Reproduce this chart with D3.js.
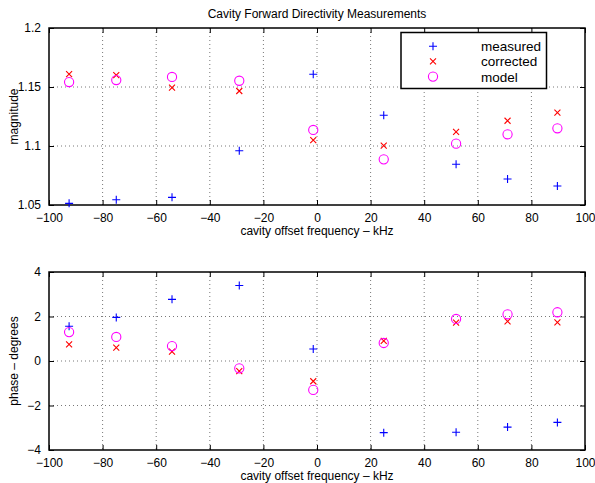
<!DOCTYPE html>
<html><head><meta charset="utf-8">
<script src="https://cdn.jsdelivr.net/npm/d3@7"></script>
<style>body{margin:0;background:#fff;} text{font-family:"Liberation Sans",Arial,sans-serif;fill:#000;}</style>
</head><body>
<svg id="c" width="595" height="483"></svg>
<script>
const freq = [-92.5, -74.9, -54.1, -29.0, -1.4, 24.9, 51.9, 71.1, 89.7];
const magMeasured = [1.0514, 1.0545, 1.0565, 1.096, 1.1608, 1.126, 1.0845, 1.072, 1.0661];
const magCorrected = [1.161, 1.160, 1.1494, 1.1466, 1.105, 1.1003, 1.1119, 1.1214, 1.1282];
const magModel = [1.1542, 1.1559, 1.1585, 1.1553, 1.1136, 1.0887, 1.102, 1.1099, 1.115];
const phMeasured = [1.56, 1.96, 2.77, 3.39, 0.54, -3.22, -3.2, -2.97, -2.76];
const phCorrected = [0.75, 0.6, 0.42, -0.46, -0.91, 0.9, 1.72, 1.78, 1.74];
const phModel = [1.3, 1.08, 0.67, -0.33, -1.3, 0.81, 1.89, 2.1, 2.19];
const xTicks = [-100, -80, -60, -40, -20, 0, 20, 40, 60, 80, 100];
const magTicks = [1.05, 1.1, 1.15, 1.2];
const magTickLabels = ["1.05", "1.1", "1.15", "1.2"];
const phTicks = [-4, -2, 0, 2, 4];
const title = "Cavity Forward Directivity Measurements";
const xLabel = "cavity offset frequency \u2013 kHz";
const seriesNames = ["measured", "corrected", "model"];
const seriesColors = ["#0000ff", "#ff0000", "#ff00ff"];

const svg = d3.select("#c");
const L = 49, R = 585;

function marker(g, type, x, y, color) {
  if (type === 0) {
    g.append("path").attr("d", `M${x-4},${y}H${x+4}M${x},${y-4}V${y+4}`).attr("stroke", color).attr("stroke-width", 1.1).attr("fill", "none");
  } else if (type === 1) {
    g.append("path").attr("d", `M${x-3},${y-3}L${x+3},${y+3}M${x-3},${y+3}L${x+3},${y-3}`).attr("stroke", color).attr("stroke-width", 1.1).attr("fill", "none");
  } else {
    g.append("circle").attr("cx", x).attr("cy", y).attr("r", 4.6).attr("stroke", color).attr("stroke-width", 1.1).attr("fill", "none");
  }
}

function panel(top, bottom, yDomain, yTicks, yFmt, yLabel, series) {
  const x = d3.scaleLinear().domain([-100, 100]).range([L, R]);
  const y = d3.scaleLinear().domain(yDomain).range([bottom, top]);
  const g = svg.append("g");
  xTicks.slice(1, -1).forEach(t => {
    g.append("line").attr("x1", x(t)).attr("x2", x(t)).attr("y1", top).attr("y2", bottom)
      .attr("stroke", "#555").attr("stroke-width", 0.8).attr("stroke-dasharray", "1,3");
  });
  yTicks.slice(1, -1).forEach(t => {
    g.append("line").attr("x1", L).attr("x2", R).attr("y1", y(t)).attr("y2", y(t))
      .attr("stroke", "#555").attr("stroke-width", 0.8).attr("stroke-dasharray", "1,3");
  });
  const ax = g.append("g").attr("transform", `translate(0,${bottom})`)
    .call(d3.axisBottom(x).tickValues(xTicks).tickSize(-5).tickPadding(8).tickFormat(d => d < 0 ? "\u2212" + Math.abs(d) : d));
  const axT = g.append("g").attr("transform", `translate(0,${top})`)
    .call(d3.axisTop(x).tickValues(xTicks).tickSize(-5).tickFormat(""));
  const ay = g.append("g").attr("transform", `translate(${L},0)`)
    .call(d3.axisLeft(y).tickValues(yTicks).tickSize(-5).tickPadding(8).tickFormat(yFmt));
  const ayR = g.append("g").attr("transform", `translate(${R},0)`)
    .call(d3.axisRight(y).tickValues(yTicks).tickSize(-5).tickFormat(""));
  [ax, axT, ay, ayR].forEach(a => {
    a.select(".domain").remove();
    a.selectAll("line").attr("stroke", "#000").attr("stroke-width", 1);
    a.selectAll("text").attr("font-size", 12).attr("font-family", "Liberation Sans, Arial, sans-serif").attr("fill", "#000");
  });
  g.append("rect").attr("x", L).attr("y", top).attr("width", R - L).attr("height", bottom - top)
    .attr("fill", "none").attr("stroke", "#000").attr("stroke-width", 1.5);
  g.append("text").attr("transform", `translate(18,${(top + bottom) / 2}) rotate(-90)`)
    .attr("text-anchor", "middle").attr("font-size", 12).text(yLabel);
  g.append("text").attr("x", (L + R) / 2).attr("y", bottom + 30).attr("text-anchor", "middle")
    .attr("font-size", 12).text(xLabel);
  const mg = g.append("g");
  series.forEach((vals, si) => {
    vals.forEach((v, i) => marker(mg, si, x(freq[i]), y(v), seriesColors[si]));
  });
  return g;
}

svg.append("text").attr("x", (L + R) / 2).attr("y", 18).attr("text-anchor", "middle").attr("font-size", 12).text(title);

panel(28, 205, [1.05, 1.2], magTicks, (d, i) => magTickLabels[i], "magnitude", [magMeasured, magCorrected, magModel]);
panel(272, 450, [-4, 4], phTicks, d => d < 0 ? "\u2212" + Math.abs(d) : d, "phase \u2013 degrees", [phMeasured, phCorrected, phModel]);

const lg = svg.append("g");
lg.append("rect").attr("x", 401).attr("y", 32.5).attr("width", 145.5).attr("height", 56).attr("fill", "#fff").attr("stroke", "#000").attr("stroke-width", 1.5);
seriesNames.forEach((n, i) => {
  const yy = 46.2 + i * 15.2;
  marker(lg, i, 433, yy, seriesColors[i]);
  lg.append("text").attr("x", 481).attr("y", yy + 5).attr("font-size", 13.5).text(n);
});
</script>
</body></html>
